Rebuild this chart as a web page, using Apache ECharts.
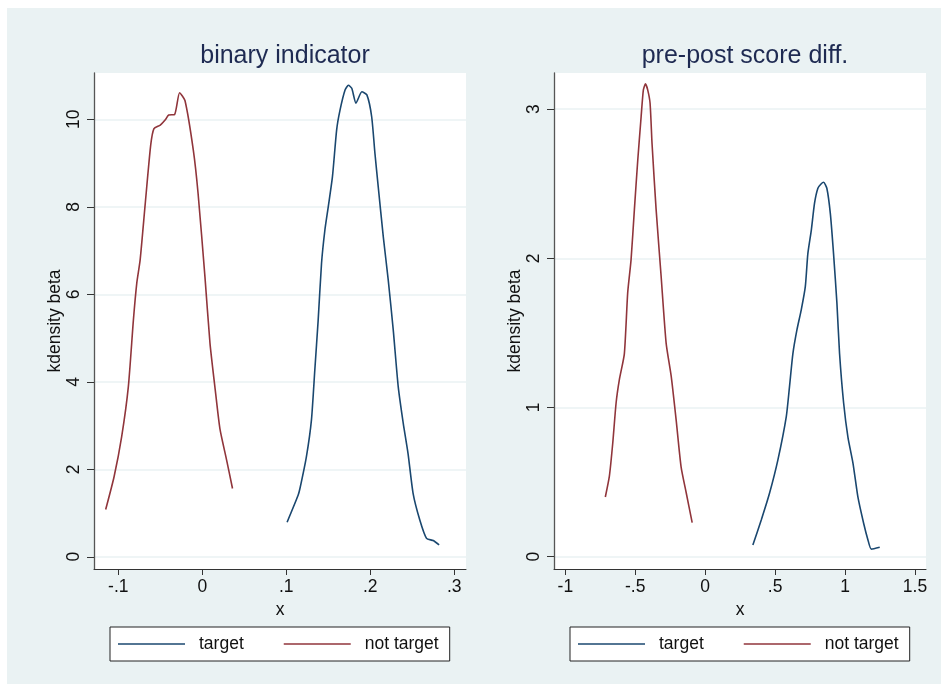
<!DOCTYPE html>
<html>
<head>
<meta charset="utf-8">
<script src="https://cdn.jsdelivr.net/npm/echarts@6/dist/echarts.min.js"></script>
<style>
html,body{margin:0;padding:0;background:#ffffff;}
#chart{position:absolute;left:7px;top:8px;width:934px;height:676px;}
</style>
</head>
<body>
<div id="chart"></div>
<script>
// ---- data ----
const titles = ['binary indicator', 'pre-post score diff.'];
const seriesNames = ['target', 'not target'];
const yAxisTitle = 'kdensity beta';
const xAxisTitle = 'x';

const leftXTicks = [-0.1, 0, 0.1, 0.2, 0.3];
const leftYTicks = [0, 2, 4, 6, 8, 10];
const rightXTicks = [-1, -0.5, 0, 0.5, 1, 1.5];
const rightYTicks = [0, 1, 2, 3];

// binary indicator – target
const leftTargetX = [0.101, 0.114, 0.1163, 0.124, 0.130, 0.134, 0.138, 0.142, 0.146, 0.150, 0.155, 0.160, 0.164, 0.170, 0.174, 0.178, 0.183, 0.190, 0.196, 0.2017, 0.2056, 0.2095, 0.2155, 0.2214, 0.2274, 0.2333, 0.2393, 0.245, 0.251, 0.259, 0.267, 0.275, 0.282];
const leftTargetY = [0.79, 1.40, 1.56, 2.29, 3.13, 4.27, 5.41, 6.71, 7.47, 8.00, 8.69, 9.76, 10.21, 10.67, 10.78, 10.71, 10.37, 10.63, 10.56, 10.06, 9.22, 8.46, 7.32, 6.33, 5.18, 3.89, 3.05, 2.36, 1.45, 0.84, 0.42, 0.37, 0.27];
// binary indicator – not target
const leftNotX = [-0.115, -0.105, -0.096, -0.088, -0.082, -0.078, -0.074, -0.068, -0.0614, -0.0575, -0.050, -0.044, -0.040, -0.033, -0.027, -0.0206, -0.0107, -0.005, 0.0032, 0.0092, 0.015, 0.021, 0.029, 0.036];
const leftNotY = [1.08, 1.83, 2.74, 3.89, 5.41, 6.25, 6.78, 8.05, 9.41, 9.79, 9.87, 9.99, 10.10, 10.11, 10.61, 10.43, 9.30, 8.31, 6.40, 4.88, 3.89, 2.93, 2.21, 1.56];
// pre-post score diff. – target
const rightTargetX = [0.341, 0.401, 0.460, 0.520, 0.580, 0.603, 0.627, 0.656, 0.687, 0.716, 0.734, 0.759, 0.782, 0.806, 0.830, 0.847, 0.870, 0.895, 0.918, 0.942, 0.961, 0.990, 1.021, 1.057, 1.092, 1.133, 1.164, 1.188, 1.248];
const rightTargetY = [0.078, 0.246, 0.425, 0.649, 0.939, 1.14, 1.36, 1.52, 1.655, 1.81, 2.03, 2.19, 2.37, 2.47, 2.50, 2.51, 2.47, 2.30, 2.03, 1.70, 1.36, 1.03, 0.80, 0.626, 0.40, 0.224, 0.112, 0.05, 0.063];
// pre-post score diff. – not target
const rightNotX = [-0.714, -0.685, -0.661, -0.637, -0.613, -0.578, -0.554, -0.530, -0.506, -0.482, -0.458, -0.442, -0.427, -0.411, -0.394, -0.380, -0.351, -0.315, -0.279, -0.243, -0.208, -0.172, -0.136, -0.093];
const rightNotY = [0.40, 0.54, 0.76, 1.03, 1.19, 1.36, 1.77, 1.99, 2.33, 2.66, 2.95, 3.13, 3.17, 3.13, 3.04, 2.77, 2.33, 1.88, 1.43, 1.21, 0.92, 0.60, 0.43, 0.228];

// ---- styling ----
const FONT = "'Liberation Sans', Arial, sans-serif";
const NAVY = '#1a476f';
const MAROON = '#90353b';
const BG = '#eaf2f3';

function pairs(xs, ys) { return xs.map((x, i) => [x, ys[i]]); }
function fmtTick(v) {
  let s = String(Math.round(v * 1000) / 1000);
  return s.replace(/^(-?)0\./, '$1.');
}

const grids = [
  { left: 87, top: 65, width: 372, height: 496 },
  { left: 547, top: 65, width: 372, height: 496 }
];
const xRanges = [[-0.1289, 0.314], [-1.081, 1.579]];
const yRanges = [[-0.28, 11.06], [-0.083, 3.243]];
const xTicks = [leftXTicks, rightXTicks];
const yTicks = [leftYTicks, rightYTicks];

const option = {
  backgroundColor: BG,
  animation: false,
  title: titles.map((t, i) => ({
    text: t,
    left: grids[i].left + grids[i].width / 2,
    textAlign: 'center',
    top: 31,
    textStyle: { fontFamily: FONT, fontSize: 25, fontWeight: 'normal', color: '#1e2a52' }
  })),
  legend: [0, 1].map(i => ({
    data: seriesNames,
    left: grids[i].left + 16,
    top: 619,
    orient: 'horizontal',
    backgroundColor: '#ffffff',
    borderColor: '#222222',
    borderWidth: 1,
    borderRadius: 0,
    padding: [8, 11, 8, 8],
    itemWidth: 67,
    itemHeight: 17,
    itemGap: 40,
    selectedMode: false,
    icon: 'path://M0,0L40,0L40,1L0,1Z',
    textStyle: { fontFamily: FONT, fontSize: 17.5, color: '#111', padding: [0, 0, 0, 9] }
  })),
  grid: grids.map(g => Object.assign({ show: true, backgroundColor: '#ffffff', borderWidth: 0 }, g)),
  xAxis: [0, 1].map(i => ({
    type: 'value',
    gridIndex: i,
    min: xRanges[i][0],
    max: xRanges[i][1],
    name: xAxisTitle,
    nameLocation: 'middle',
    nameGap: 29,
    nameTextStyle: { fontFamily: FONT, fontSize: 17.5, color: '#111' },
    axisLine: { show: true, onZero: false, lineStyle: { color: '#333', width: 1 } },
    axisTick: { show: true, length: 6, customValues: xTicks[i], lineStyle: { color: '#333' } },
    axisLabel: { customValues: xTicks[i], formatter: fmtTick, margin: 9, fontFamily: FONT, fontSize: 17.5, color: '#111', showMinLabel: true, showMaxLabel: true },
    splitLine: { show: false }
  })),
  yAxis: [0, 1].map(i => ({
    type: 'value',
    gridIndex: i,
    min: yRanges[i][0],
    max: yRanges[i][1],
    name: yAxisTitle,
    nameLocation: 'middle',
    nameGap: 28,
    nameRotate: 90,
    nameTextStyle: { fontFamily: FONT, fontSize: 17.5, color: '#111' },
    axisLine: { show: true, onZero: false, lineStyle: { color: '#555', width: 1.3 } },
    axisTick: { show: true, length: 7, customValues: yTicks[i], lineStyle: { color: '#333' } },
    axisLabel: { customValues: yTicks[i], rotate: 90, margin: 11, fontFamily: FONT, fontSize: 17.5, color: '#111' },
    splitLine: { show: true, lineStyle: { color: BG, width: 1.5 } }
  })),
  series: [
    { name: seriesNames[0], type: 'line', xAxisIndex: 0, yAxisIndex: 0, data: pairs(leftTargetX, leftTargetY) },
    { name: seriesNames[1], type: 'line', xAxisIndex: 0, yAxisIndex: 0, data: pairs(leftNotX, leftNotY) },
    { name: seriesNames[0], type: 'line', xAxisIndex: 1, yAxisIndex: 1, data: pairs(rightTargetX, rightTargetY) },
    { name: seriesNames[1], type: 'line', xAxisIndex: 1, yAxisIndex: 1, data: pairs(rightNotX, rightNotY) }
  ].map((s, k) => Object.assign(s, {
    showSymbol: false,
    symbol: 'none',
    smooth: 0.2,
    lineStyle: { width: 1.6, color: (k % 2 === 0) ? NAVY : MAROON },
    itemStyle: { color: (k % 2 === 0) ? NAVY : MAROON }
  }))
};

const chart = echarts.init(document.getElementById('chart'), null, { renderer: 'canvas' });
chart.setOption(option);
</script>
</body>
</html>
